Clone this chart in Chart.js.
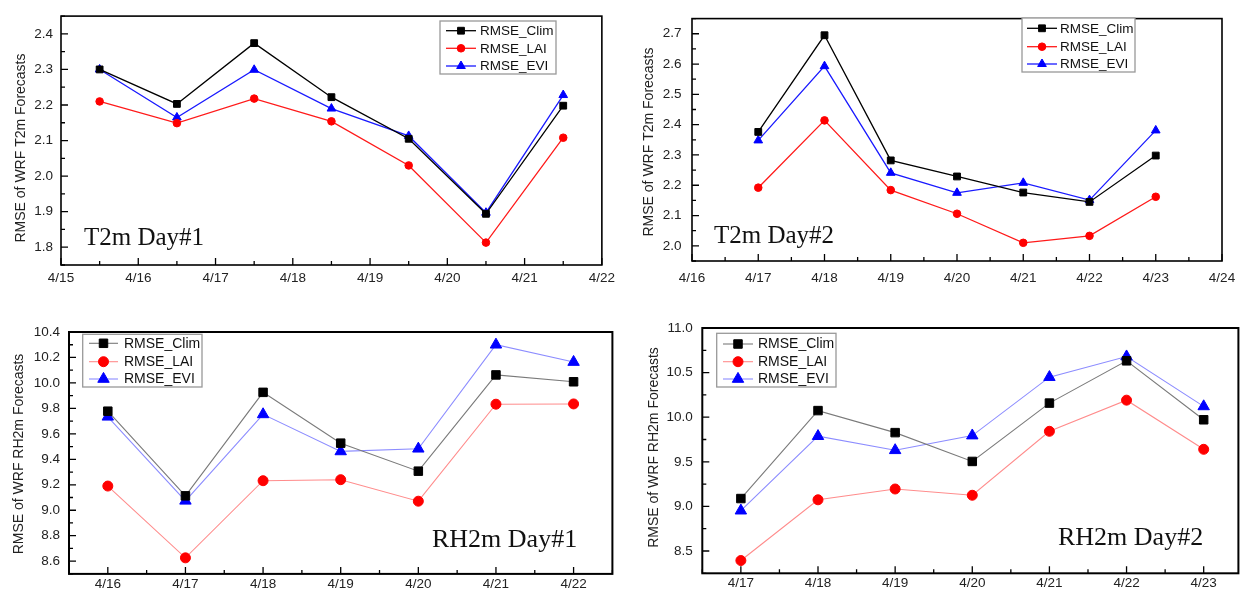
<!DOCTYPE html>
<html><head><meta charset="utf-8">
<script src="https://cdn.jsdelivr.net/npm/chart.js@4.4.1/dist/chart.umd.min.js"></script>
<style>
html,body{margin:0;padding:0;background:#fff;width:1246px;height:591px;overflow:hidden;}
canvas{position:absolute;display:block;}
</style></head><body>
<canvas id="c1" width="620" height="295" style="left:0;top:0"></canvas>
<canvas id="c2" width="626" height="295" style="left:620px;top:0"></canvas>
<canvas id="c3" width="620" height="291" style="left:0;top:300px"></canvas>
<canvas id="c4" width="626" height="291" style="left:620px;top:300px"></canvas>
<script>
// ---------- DATA ----------
const seriesNames = ['RMSE_Clim', 'RMSE_LAI', 'RMSE_EVI'];

// Panel 1: T2m Day#1 (points at mid-day)
const t2d1Days = [15.5, 16.5, 17.5, 18.5, 19.5, 20.5, 21.5];
const t2d1Clim = [2.300, 2.203, 2.374, 2.222, 2.105, 1.894, 2.198];
const t2d1LAI  = [2.210, 2.149, 2.218, 2.154, 2.030, 1.813, 2.108];
const t2d1EVI  = [2.300, 2.165, 2.299, 2.190, 2.113, 1.897, 2.228];
const t2d1XTicks = [15, 16, 17, 18, 19, 20, 21, 22];
const t2d1XLabels = ['4/15', '4/16', '4/17', '4/18', '4/19', '4/20', '4/21', '4/22'];
const t2d1YTicks = [1.8, 1.9, 2.0, 2.1, 2.2, 2.3, 2.4];

// Panel 2: T2m Day#2
const t2d2Days = [17, 18, 19, 20, 21, 22, 23];
const t2d2Clim = [2.376, 2.695, 2.282, 2.229, 2.176, 2.145, 2.298];
const t2d2LAI  = [2.192, 2.414, 2.184, 2.106, 2.010, 2.033, 2.162];
const t2d2EVI  = [2.348, 2.593, 2.241, 2.175, 2.208, 2.151, 2.381];
const t2d2XTicks = [16, 17, 18, 19, 20, 21, 22, 23, 24];
const t2d2XLabels = ['4/16', '4/17', '4/18', '4/19', '4/20', '4/21', '4/22', '4/23', '4/24'];
const t2d2YTicks = [2.0, 2.1, 2.2, 2.3, 2.4, 2.5, 2.6, 2.7];

// Panel 3: RH2m Day#1
const rhd1Days = [16, 17, 18, 19, 20, 21, 22];
const rhd1Clim = [9.778, 9.113, 9.926, 9.527, 9.307, 10.063, 10.009];
const rhd1LAI  = [9.190, 8.626, 9.232, 9.240, 9.071, 9.833, 9.835];
const rhd1EVI  = [9.734, 9.074, 9.753, 9.462, 9.483, 10.300, 10.164];
const rhd1XTicks = [16, 17, 18, 19, 20, 21, 22];
const rhd1XLabels = ['4/16', '4/17', '4/18', '4/19', '4/20', '4/21', '4/22'];
const rhd1YTicks = [8.6, 8.8, 9.0, 9.2, 9.4, 9.6, 9.8, 10.0, 10.2, 10.4];

// Panel 4: RH2m Day#2
const rhd2Days = [17, 18, 19, 20, 21, 22, 23];
const rhd2Clim = [9.088, 10.074, 9.827, 9.504, 10.158, 10.632, 9.971];
const rhd2LAI  = [8.393, 9.074, 9.195, 9.125, 9.842, 10.191, 9.640];
const rhd2EVI  = [8.952, 9.787, 9.629, 9.794, 10.449, 10.680, 10.121];
const rhd2XTicks = [17, 18, 19, 20, 21, 22, 23];
const rhd2XLabels = ['4/17', '4/18', '4/19', '4/20', '4/21', '4/22', '4/23'];
const rhd2YTicks = [8.5, 9.0, 9.5, 10.0, 10.5, 11.0];

// ---------- RENDERING ----------
const SANS = '"Liberation Sans", Arial, sans-serif';
const SERIF = '"Liberation Serif", "Times New Roman", serif';

const deco = {
  id: 'deco',
  afterDraw(chart, args, o) {
    const {ctx, chartArea: a} = chart;
    const xs = chart.scales.x, ys = chart.scales.y;
    ctx.save();
    // inward tick marks
    ctx.strokeStyle = '#000';
    ctx.lineWidth = o.tickW;
    ctx.beginPath();
    for (let k = Math.ceil(xs.min / o.xMinor - 1e-6); k * o.xMinor <= xs.max + 1e-6; k++) {
      const v = k * o.xMinor;
      const major = Math.abs(v / o.xMajor - Math.round(v / o.xMajor)) < 1e-6;
      const px = xs.getPixelForValue(v);
      ctx.moveTo(px, a.bottom);
      ctx.lineTo(px, a.bottom - (major ? o.majorLen : o.minorLen));
    }
    for (let k = Math.ceil(ys.min / o.yMinor - 1e-6); k * o.yMinor <= ys.max + 1e-6; k++) {
      const v = k * o.yMinor;
      const major = Math.abs(v / o.yMajor - Math.round(v / o.yMajor)) < 1e-6;
      const py = ys.getPixelForValue(v);
      ctx.moveTo(a.left, py);
      ctx.lineTo(a.left + (major ? o.majorLen : o.minorLen), py);
    }
    ctx.stroke();
    // frame
    ctx.lineWidth = o.frameW;
    ctx.strokeRect(a.left, a.top, a.right - a.left, a.bottom - a.top);
    // panel annotation
    ctx.fillStyle = '#111';
    ctx.font = o.noteFont;
    ctx.textAlign = 'left';
    ctx.textBaseline = 'alphabetic';
    ctx.fillText(o.note, o.noteX, o.noteY);
    // y axis title
    ctx.save();
    ctx.translate(o.titleX, o.titleY);
    ctx.rotate(-Math.PI / 2);
    ctx.textAlign = 'center';
    ctx.textBaseline = 'middle';
    ctx.font = '14px ' + SANS;
    ctx.fillStyle = '#222';
    ctx.fillText(o.title, 0, 0);
    ctx.restore();
    // legend
    const L = o.legend;
    ctx.fillStyle = '#fff';
    ctx.fillRect(L.x, L.y, L.w, L.h);
    ctx.strokeStyle = '#999';
    ctx.lineWidth = 1.3;
    ctx.strokeRect(L.x, L.y, L.w, L.h);
    chart.data.datasets.forEach((d, i) => {
      const cy = L.rows[i];
      ctx.strokeStyle = d.borderColor;
      ctx.lineWidth = d.borderWidth;
      ctx.beginPath();
      ctx.moveTo(L.x0, cy);
      ctx.lineTo(L.x1, cy);
      ctx.stroke();
      ctx.fillStyle = d.pointBackgroundColor;
      ctx.strokeStyle = d.pointBorderColor;
      ctx.lineWidth = 1;
      Chart.helpers.drawPoint(ctx, {pointStyle: d.pointStyle, radius: d.pointRadius, rotation: 0, borderWidth: 1}, (L.x0 + L.x1) / 2, cy);
      ctx.fillStyle = '#111';
      ctx.font = L.font;
      ctx.textAlign = 'left';
      ctx.textBaseline = 'middle';
      ctx.fillText(d.label, L.tx, cy + 0.5);
    });
    ctx.restore();
  }
};

function ds(label, xs, ys, lineColor, markColor, style, r, bw) {
  return {
    label,
    data: xs.map((x, i) => ({x, y: ys[i]})),
    borderColor: lineColor,
    borderWidth: bw,
    pointBackgroundColor: markColor,
    pointBorderColor: markColor,
    pointBorderWidth: 1,
    pointStyle: style,
    pointRadius: r,
    tension: 0,
    fill: false
  };
}

function makePanel(id, g, datasets, xTicks, xLabels, yTicks, decoOpts) {
  new Chart(document.getElementById(id), {
    type: 'line',
    data: {datasets},
    options: {
      responsive: false,
      animation: false,
      events: [],
      layout: {padding: {top: g.padTop, right: g.padRight, left: 0, bottom: 0}},
      plugins: {legend: {display: false}, tooltip: {enabled: false}, deco: decoOpts},
      scales: {
        x: {
          type: 'linear', position: 'bottom', min: g.xMin, max: g.xMax,
          grid: {display: false, drawTicks: false},
          border: {display: false},
          afterBuildTicks: s => { s.ticks = xTicks.map(v => ({value: v})); },
          afterFit: s => { s.height = g.xAxisH; },
          ticks: {
            autoSkip: false, maxRotation: 0, padding: g.xPad, color: '#222',
            font: {family: SANS, size: 13.5},
            callback: v => xLabels[xTicks.indexOf(v)]
          }
        },
        y: {
          type: 'linear', position: 'left', min: g.yMin, max: g.yMax,
          grid: {display: false, drawTicks: false},
          border: {display: false},
          afterBuildTicks: s => { s.ticks = yTicks.map(v => ({value: v})); },
          afterFit: s => { s.width = g.yAxisW; },
          ticks: {
            autoSkip: false, padding: g.yPad, color: '#222',
            font: {family: SANS, size: 13.5},
            callback: v => v.toFixed(1)
          }
        }
      }
    },
    plugins: [deco]
  });
}

// Top panels: thin solid lines, small markers
function topSets(days, clim, lai, evi) {
  return [
    ds(seriesNames[0], days, clim, '#000000', '#000000', 'rect', 4.8, 1.3),
    ds(seriesNames[1], days, lai, '#ff1a1a', '#ff0000', 'circle', 3.8, 1.3),
    ds(seriesNames[2], days, evi, '#1a1aff', '#0000ff', 'triangle', 5, 1.3)
  ];
}
// Bottom panels: light lines, big markers
function bottomSets(days, clim, lai, evi) {
  return [
    ds(seriesNames[0], days, clim, '#7a7a7a', '#000000', 'rect', 6, 1.1),
    ds(seriesNames[1], days, lai, '#ff8c8c', '#ff0000', 'circle', 5, 1.1),
    ds(seriesNames[2], days, evi, '#8c8cff', '#0000ff', 'triangle', 6.6, 1.1)
  ];
}

makePanel('c1',
  {padTop: 13, padRight: 17, xAxisH: 30, yAxisW: 61, xMin: 15, xMax: 22, yMin: 1.75, yMax: 2.45, xPad: 5, yPad: 8},
  topSets(t2d1Days, t2d1Clim, t2d1LAI, t2d1EVI), t2d1XTicks, t2d1XLabels, t2d1YTicks,
  {xMajor: 1, xMinor: 0.5, yMajor: 0.1, yMinor: 0.05, majorLen: 7, minorLen: 4, tickW: 1.3, frameW: 1.6,
   note: 'T2m Day#1', noteFont: '25px ' + SERIF, noteX: 84, noteY: 245,
   title: 'RMSE of WRF T2m Forecasts', titleX: 21, titleY: 148,
   legend: {x: 440, y: 21, w: 116, h: 53, rows: [30.7, 48.3, 66], x0: 446, x1: 476, tx: 480, font: '13.5px ' + SANS}});

makePanel('c2',
  {padTop: 5, padRight: 24, xAxisH: 34, yAxisW: 72, xMin: 16, xMax: 24, yMin: 1.95, yMax: 2.75, xPad: 9, yPad: 10.5},
  topSets(t2d2Days, t2d2Clim, t2d2LAI, t2d2EVI), t2d2XTicks, t2d2XLabels, t2d2YTicks,
  {xMajor: 1, xMinor: 0.5, yMajor: 0.1, yMinor: 0.05, majorLen: 7, minorLen: 4, tickW: 1.3, frameW: 1.6,
   note: 'T2m Day#2', noteFont: '25px ' + SERIF, noteX: 94, noteY: 243,
   title: 'RMSE of WRF T2m Forecasts', titleX: 29, titleY: 142,
   legend: {x: 402, y: 18, w: 113, h: 54, rows: [28.3, 46.7, 64], x0: 407, x1: 437, tx: 440, font: '13.5px ' + SANS}});

makePanel('c3',
  {padTop: 32, padRight: 4, xAxisH: 14.3, yAxisW: 69, xMin: 15.5, xMax: 22.5, yMin: 8.5, yMax: 10.4, xPad: 2, yPad: 9},
  bottomSets(rhd1Days, rhd1Clim, rhd1LAI, rhd1EVI), rhd1XTicks, rhd1XLabels, rhd1YTicks,
  {xMajor: 1, xMinor: 0.5, yMajor: 0.2, yMinor: 0.1, majorLen: 7, minorLen: 4, tickW: 1.3, frameW: 2,
   note: 'RH2m Day#1', noteFont: '26px ' + SERIF, noteX: 432, noteY: 246.7,
   title: 'RMSE of WRF RH2m Forecasts', titleX: 19, titleY: 154,
   legend: {x: 82.7, y: 34.3, w: 119.3, h: 52.7, rows: [43.3, 61.7, 79], x0: 89, x1: 118, tx: 124, font: '14px ' + SANS}});

makePanel('c4',
  {padTop: 28, padRight: 4, xAxisH: 13.7, yAxisW: 82.3, xMin: 16.5, xMax: 23.45, yMin: 8.25, yMax: 11.0, xPad: 2, yPad: 9.6},
  bottomSets(rhd2Days, rhd2Clim, rhd2LAI, rhd2EVI), rhd2XTicks, rhd2XLabels, rhd2YTicks,
  {xMajor: 1, xMinor: 0.5, yMajor: 0.5, yMinor: 0.25, majorLen: 7, minorLen: 4, tickW: 1.3, frameW: 2,
   note: 'RH2m Day#2', noteFont: '26px ' + SERIF, noteX: 438, noteY: 245,
   title: 'RMSE of WRF RH2m Forecasts', titleX: 34, titleY: 147.5,
   legend: {x: 96.7, y: 33.3, w: 119.3, h: 53.7, rows: [44, 61.7, 79], x0: 103, x1: 133, tx: 138, font: '14px ' + SANS}});
</script>
</body></html>
